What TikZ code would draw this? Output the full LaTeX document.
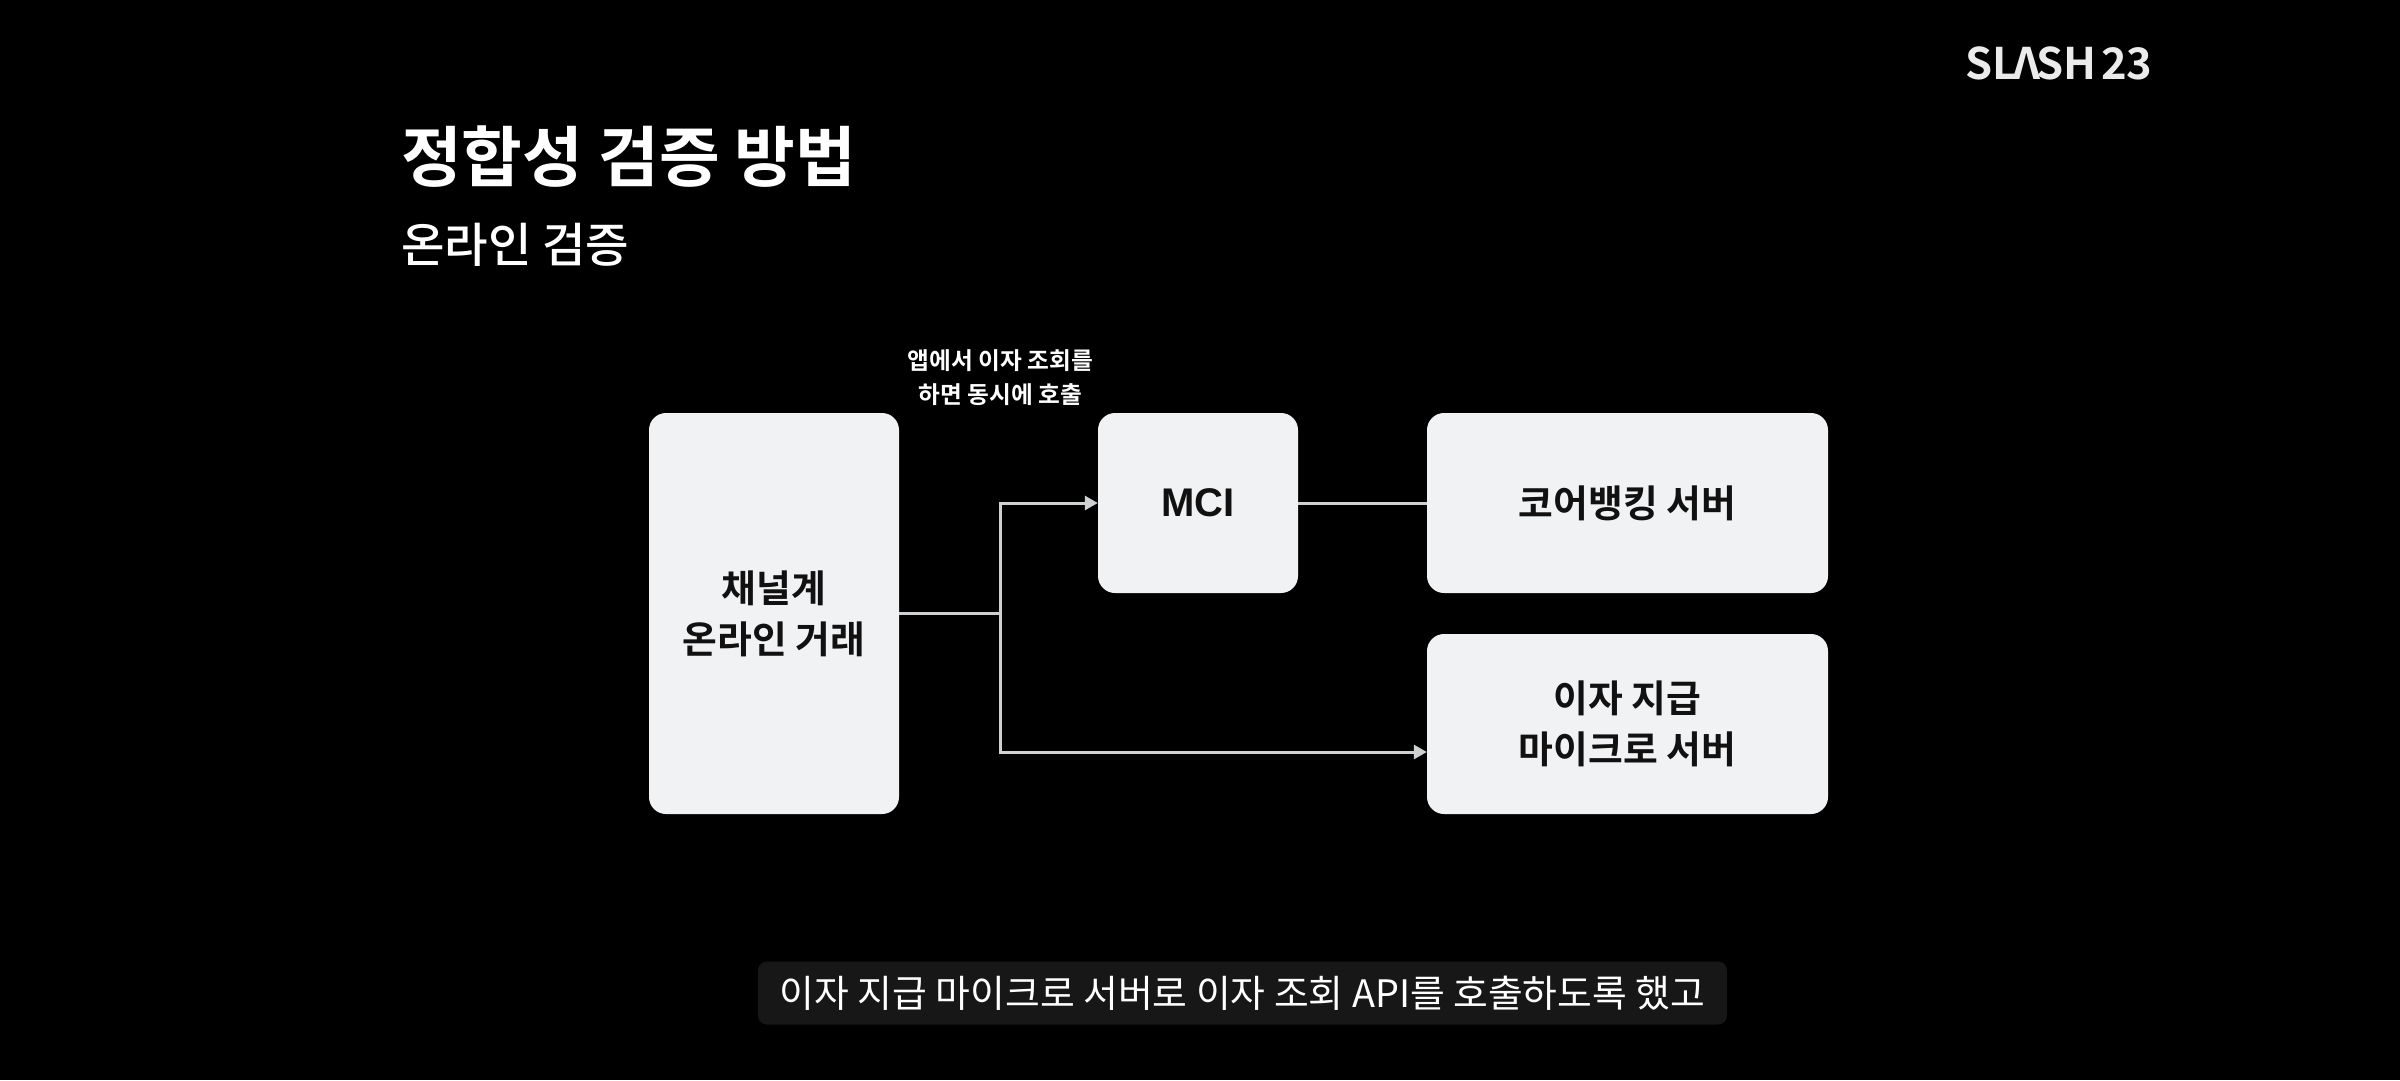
\documentclass[tikz,border=0pt]{standalone}
\usepackage{fontspec}
\setmainfont{Noto Sans CJK KR}
\newfontfamily\krbold{Noto Sans CJK KR Bold}
\newfontfamily\krmed{Noto Sans CJK KR Medium}
\newfontfamily\latinbold{Liberation Sans Bold}
\usetikzlibrary{arrows.meta}

\definecolor{boxfill}{HTML}{F1F2F4}
\definecolor{linegray}{HTML}{CFD0D1}
\definecolor{capfill}{HTML}{171717}
\definecolor{boxtext}{HTML}{111111}

\tikzset{
  block/.style={fill=boxfill,text=boxtext,rounded corners=17pt,inner sep=0pt,align=center,
    font=\krbold\fontsize{37.8}{50}\selectfont},
  wire/.style={draw=linegray,line width=3pt},
  wirearrow/.style={wire,-{Triangle[length=13pt,width=14pt]}},
  whitetext/.style={text=white,inner sep=0pt}
}

\begin{document}
\begin{tikzpicture}[x=1pt,y=-1pt]
\fill[black] (0,0) rectangle (2400,1080);
\useasboundingbox (0,0) rectangle (2400,1080);

% logo and heading
\node[whitetext,font=\krbold\fontsize{43.5}{43}\selectfont,text=white!92!black] (logo) at (2059,63) {SL$\!$Λ$\!$SH\hspace{-5pt} 23};
\node[whitetext,anchor=west,font=\krbold\fontsize{66}{70}\selectfont] (title) at (401,157) {정합성 검증 방법};
\node[whitetext,anchor=west,font=\krmed\fontsize{47.3}{50}\selectfont] (subtitle) at (401,244.5) {온라인 검증};

% blocks
\node[block,minimum width=250pt,minimum height=401pt] (channel) at (774,613.5) {채널계\\[1pt]온라인 거래};
\node[block,minimum width=200pt,minimum height=180pt] (mci) at (1198,503) {\raisebox{-1.5pt}{\latinbold\fontsize{40}{40}\selectfont MCI}};
\node[block,minimum width=401pt,minimum height=180pt] (core) at (1627.5,503) {\raisebox{-1pt}{코어뱅킹 서버}};
\node[block,minimum width=401pt,minimum height=180pt] (interest) at (1627.5,724) {이자 지급\\[1pt]마이크로 서버};

\node[whitetext,align=center,font=\krbold\fontsize{23.7}{34}\selectfont] (note) at (1000.5,378) {앱에서 이자 조회를\\하면 동시에 호출};

% wires
\coordinate (branch) at (1000,613.5);
\coordinate (interestin) at (interest.west |- 0,752);
\draw[wire] (channel) -- (branch);
\draw[wirearrow] (branch) |- (mci);
\draw[wirearrow] (branch) |- (interestin);
\draw[wire] (mci) -- (core);

% caption
\node[fill=capfill,rounded corners=9pt,text=white,minimum width=969pt,minimum height=63pt,inner sep=0pt,
  font=\fontsize{37.8}{40}\selectfont] (caption) at (1242.5,993) {이자 지급 마이크로 서버로 이자 조회 API를 호출하도록 했고};
\end{tikzpicture}
\end{document}
